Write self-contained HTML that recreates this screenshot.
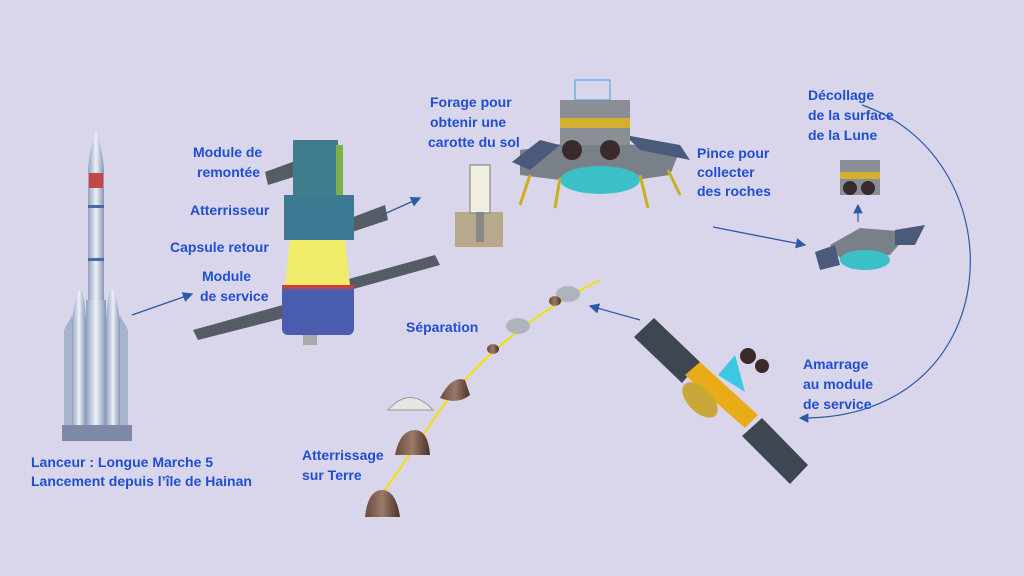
<!DOCTYPE html>
<html><head><meta charset="utf-8"><style>
html,body{margin:0;padding:0;background:#d9d6ec;}
svg{display:block}
text{font-family:"Liberation Sans",sans-serif;font-weight:bold;font-size:14px;fill:#1f4fcf}
</style></head><body>
<svg width="1024" height="576" viewBox="0 0 1024 576" xmlns="http://www.w3.org/2000/svg">
<defs>
<marker id="a" markerWidth="8" markerHeight="8" refX="7" refY="4" orient="auto"><path d="M0,0 L8,4 L0,8z" fill="#2a5aa8"/></marker>
<linearGradient id="cap" x1="0" x2="1"><stop offset="0" stop-color="#6b4a3a"/><stop offset=".5" stop-color="#9a7a68"/><stop offset="1" stop-color="#4a3028"/></linearGradient>
<linearGradient id="rk" x1="0" x2="1"><stop offset="0" stop-color="#8fa2c0"/><stop offset=".5" stop-color="#eef0f6"/><stop offset="1" stop-color="#8496b6"/></linearGradient>
</defs>
<rect width="1024" height="576" fill="#d9d6ec"/>

<!-- rocket -->
<path d="M96,130 Q90,145 88,170 L88,300 L104,300 L104,170 Q102,145 96,130z" fill="url(#rk)"/>
<rect x="89" y="173" width="14" height="15" fill="#c0484a"/>
<rect x="88" y="205" width="16" height="3" fill="#4a6aa0"/>
<rect x="88" y="258" width="16" height="3" fill="#4a6aa0"/>
<rect x="86" y="300" width="20" height="125" fill="url(#rk)"/>
<path d="M72,320 Q76,290 80,290 Q84,290 86,320 L86,425 L72,425z" fill="url(#rk)"/>
<path d="M106,320 Q108,290 112,290 Q116,290 120,320 L120,425 L106,425z" fill="url(#rk)"/>
<path d="M64,330 L72,315 L72,425 L64,425z" fill="#a6b4cc"/>
<path d="M120,315 L128,330 L128,425 L120,425z" fill="#a6b4cc"/>
<rect x="62" y="425" width="70" height="16" fill="#7c8aa8"/>

<!-- spacecraft stack -->
<polygon points="193,330 290,303 296,315 198,340" fill="#555c66"/>
<polygon points="345,280 435,255 440,265 350,290" fill="#555c66"/>
<polygon points="265,172 298,160 300,175 268,185" fill="#555c66"/>
<polygon points="340,222 385,205 388,220 343,235" fill="#555c66"/>
<rect x="293" y="140" width="45" height="55" fill="#3f7d8c"/>
<rect x="336" y="145" width="7" height="50" fill="#7db04a"/>
<rect x="284" y="195" width="70" height="45" fill="#3b7a92"/>
<path d="M290,240 L345,240 L350,285 L285,285z" fill="#f0ec6a"/>
<rect x="282" y="285" width="72" height="50" rx="6" fill="#4b5dae"/>
<rect x="282" y="285" width="72" height="4" fill="#c84040"/>
<rect x="303" y="335" width="14" height="10" fill="#aaa"/>

<!-- arrows -->
<line x1="132" y1="315" x2="192" y2="294" stroke="#2a5aa8" stroke-width="1.3" marker-end="url(#a)"/>
<line x1="382" y1="215" x2="420" y2="198" stroke="#2a5aa8" stroke-width="1.3" marker-end="url(#a)"/>
<line x1="713" y1="227" x2="805" y2="245" stroke="#2a5aa8" stroke-width="1.3" marker-end="url(#a)"/>
<line x1="640" y1="320" x2="590" y2="306" stroke="#2a5aa8" stroke-width="1.3" marker-end="url(#a)"/>
<path d="M862,105 C1020,160 1010,420 800,418" fill="none" stroke="#2a5aa8" stroke-width="1.2" marker-end="url(#a)"/>
<line x1="858" y1="222" x2="858" y2="205" stroke="#2a5aa8" stroke-width="1.2" marker-end="url(#a)"/>

<!-- drill -->
<rect x="455" y="212" width="48" height="35" fill="#b8a88c"/>
<rect x="470" y="165" width="20" height="48" fill="#f2efe0" stroke="#777"/>
<rect x="476" y="212" width="8" height="30" fill="#888"/>

<!-- lander -->
<polygon points="520,150 590,140 680,150 670,175 600,185 520,175" fill="#7a8088"/>
<polygon points="512,162 540,140 560,145 530,170" fill="#4a5a7a"/>
<polygon points="625,135 680,145 690,160 640,150" fill="#4a5a7a"/>
<ellipse cx="600" cy="180" rx="40" ry="14" fill="#3cc0c8"/>
<rect x="560" y="100" width="70" height="45" fill="#8a8f96"/>
<rect x="560" y="118" width="70" height="10" fill="#d4b030"/>
<circle cx="572" cy="150" r="10" fill="#3a2a2a"/>
<circle cx="610" cy="150" r="10" fill="#3a2a2a"/>
<rect x="575" y="80" width="35" height="20" fill="none" stroke="#3aa0e0"/>
<g stroke="#c8b020" stroke-width="3"><line x1="530" y1="175" x2="520" y2="205"/><line x1="560" y1="178" x2="555" y2="208"/><line x1="640" y1="175" x2="648" y2="208"/><line x1="668" y1="170" x2="680" y2="195"/></g>

<!-- ascender & small lander -->
<rect x="840" y="160" width="40" height="35" fill="#8a8f96"/>
<rect x="840" y="172" width="40" height="7" fill="#d4b030"/>
<circle cx="850" cy="188" r="7" fill="#3a2a2a"/><circle cx="868" cy="188" r="7" fill="#3a2a2a"/>
<polygon points="830,245 860,228 910,232 890,255 840,258" fill="#7a8088"/>
<ellipse cx="865" cy="260" rx="25" ry="10" fill="#3cc0c8"/>
<polygon points="815,252 835,245 840,265 820,270" fill="#4a5a7a"/>
<polygon points="895,230 925,225 915,245 895,245" fill="#4a5a7a"/>

<!-- orbiter -->
<polygon points="634,337 654,318 700,362 682,383" fill="#3e4650"/>
<polygon points="742,436 762,418 808,465 790,484" fill="#3e4650"/>
<polygon points="685,375 700,362 758,415 745,428" fill="#e8ac18"/>
<ellipse cx="700" cy="400" rx="12" ry="22" transform="rotate(-45 700 400)" fill="#c8a838"/>
<polygon points="718,375 735,355 745,392" fill="#3cc8e0"/>
<circle cx="748" cy="356" r="8" fill="#3a2a2a"/>
<circle cx="762" cy="366" r="7" fill="#3a2a2a"/>

<!-- trajectory -->
<path d="M600,280 Q500,330 440,410 Q400,470 370,510" fill="none" stroke="#f2e000" stroke-width="2"/>
<ellipse cx="568" cy="294" rx="12" ry="8" fill="#aeb4bc"/>
<ellipse cx="518" cy="326" rx="12" ry="8" fill="#aeb4bc"/>
<ellipse cx="555" cy="301" rx="6" ry="5" fill="url(#cap)"/>
<ellipse cx="493" cy="349" rx="6" ry="5" fill="url(#cap)"/>
<path d="M440,398 Q452,375 465,380 L470,395 Q458,405 440,398z" fill="url(#cap)"/>
<path d="M388,410 Q410,385 433,410z" fill="#e6e6e6" stroke="#999"/>
<path d="M395,455 Q400,430 415,430 Q428,430 430,455z" fill="url(#cap)"/>
<path d="M365,517 Q368,490 382,490 Q396,490 400,517z" fill="url(#cap)"/>

<!-- labels -->
<text x="193" y="157">Module de</text><text x="197" y="177">remontée</text>
<text x="190" y="215">Atterrisseur</text>
<text x="170" y="252">Capsule retour</text>
<text x="202" y="281">Module</text><text x="200" y="301">de service</text>
<text x="430" y="107">Forage pour</text><text x="430" y="127">obtenir  une</text><text x="428" y="147">carotte du sol</text>
<text x="697" y="158">Pince pour</text><text x="697" y="177">collecter</text><text x="697" y="196">des roches</text>
<text x="808" y="100">Décollage</text><text x="808" y="120">de la surface</text><text x="808" y="140">de la Lune</text>
<text x="803" y="369">Amarrage</text><text x="803" y="389">au module</text><text x="803" y="409">de service</text>
<text x="406" y="332">Séparation</text>
<text x="302" y="460">Atterrissage</text><text x="302" y="480">sur Terre</text>
<text x="31" y="467">Lanceur : Longue Marche 5</text>
<text x="31" y="486">Lancement depuis l’île de Hainan</text>
</svg>
</body></html>
